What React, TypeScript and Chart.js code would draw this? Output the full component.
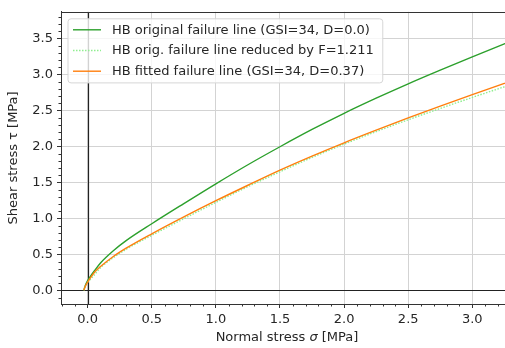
import React, { useEffect, useRef } from "react";
import { Chart, registerables } from "chart.js";

Chart.register(...registerables);

const sigma = [-0.03, -0.02, 0, 0.02, 0.05, 0.1, 0.2, 0.3, 0.5, 0.75, 1.0, 1.25, 1.5, 1.75, 2.0, 2.25, 2.5, 2.75, 3.0, 3.25, 3.5];
const tauOriginal = [0, 0.06, 0.135, 0.19, 0.265, 0.38, 0.55, 0.69, 0.925, 1.205, 1.48, 1.745, 1.995, 2.235, 2.46, 2.67, 2.87, 3.06, 3.245, 3.425, 3.6];
const tauReduced = [0, 0.05, 0.11, 0.15, 0.21, 0.314, 0.454, 0.57, 0.764, 0.995, 1.222, 1.441, 1.647, 1.846, 2.031, 2.205, 2.37, 2.527, 2.68, 2.828, 2.973];
const tauFitted = [0, 0.05, 0.115, 0.17, 0.245, 0.33, 0.47, 0.585, 0.785, 1.02, 1.245, 1.46, 1.67, 1.865, 2.05, 2.225, 2.395, 2.56, 2.72, 2.875, 3.03];

const seriesLabels = [
  "HB original failure line (GSI=34, D=0.0)",
  "HB orig. failure line reduced by F=1.211",
  "HB fitted failure line (GSI=34, D=0.37)",
];
const seriesColors = ["#2ca02c", "#90ee90", "#ff7f0e"];
const seriesDash: number[][] = [[], [1.5, 1.5], []];

const FONT = "DejaVu Sans";
const FS = 13;
const TEXT = "#262626";

const decor = {
  id: "decor",
  beforeDatasetsDraw(chart: any) {
    const { ctx, chartArea: ca, scales } = chart;
    const x0 = scales.x.getPixelForValue(0);
    const y0 = scales.y.getPixelForValue(0);
    ctx.save();
    ctx.beginPath();
    ctx.rect(ca.left, ca.top, ca.right - ca.left, ca.bottom - ca.top);
    ctx.clip();
    ctx.strokeStyle = "#222";
    ctx.lineWidth = 1.2;
    ctx.beginPath();
    ctx.moveTo(Math.round(x0) + 0.5, ca.top);
    ctx.lineTo(Math.round(x0) + 0.5, ca.bottom);
    ctx.moveTo(ca.left, Math.round(y0) + 0.5);
    ctx.lineTo(ca.right, Math.round(y0) + 0.5);
    ctx.stroke();
    ctx.restore();
  },
  afterDraw(chart: any) {
    const { ctx, chartArea: ca, scales } = chart;
    ctx.save();
    ctx.strokeStyle = "#333";
    ctx.lineWidth = 1;
    ctx.beginPath();
    ctx.moveTo(ca.left, Math.round(ca.top) + 0.5);
    ctx.lineTo(ca.right, Math.round(ca.top) + 0.5);
    ctx.stroke();
    ctx.beginPath();
    for (let i = -2; i <= 33; i++) {
      if (i % 5 === 0) continue;
      const p = scales.x.getPixelForValue(i / 10);
      if (p < ca.left || p > ca.right) continue;
      ctx.moveTo(Math.round(p) + 0.5, ca.bottom);
      ctx.lineTo(Math.round(p) + 0.5, ca.bottom + 2.5);
    }
    for (let i = -1; i <= 38; i++) {
      if (i % 5 === 0) continue;
      const p = scales.y.getPixelForValue(i / 10);
      if (p < ca.top || p > ca.bottom) continue;
      ctx.moveTo(ca.left, Math.round(p) + 0.5);
      ctx.lineTo(ca.left - 2.5, Math.round(p) + 0.5);
    }
    ctx.stroke();

    const parts = [
      { t: "Normal stress ", f: `${FS}px "${FONT}"` },
      { t: "σ", f: `italic ${FS}px "${FONT}"` },
      { t: " [MPa]", f: `${FS}px "${FONT}"` },
    ];
    let total = 0;
    for (const p of parts) {
      ctx.font = p.f;
      total += ctx.measureText(p.t).width;
    }
    const cx = ca.left + 226;
    let xx = cx - total / 2;
    ctx.fillStyle = TEXT;
    ctx.textBaseline = "middle";
    ctx.textAlign = "left";
    for (const p of parts) {
      ctx.font = p.f;
      ctx.fillText(p.t, xx, 338);
      xx += ctx.measureText(p.t).width;
    }

    ctx.font = `${FS}px "${FONT}"`;
    let maxW = 0;
    for (const l of seriesLabels) maxW = Math.max(maxW, ctx.measureText(l).width);
    const bx = ca.left + 7;
    const by = ca.top + 7;
    const rowH = 20.7;
    const bw = 44 + maxW + 9;
    const bh = rowH * 3 + 2;
    const r = 3;
    ctx.beginPath();
    ctx.moveTo(bx + r, by);
    ctx.arcTo(bx + bw, by, bx + bw, by + bh, r);
    ctx.arcTo(bx + bw, by + bh, bx, by + bh, r);
    ctx.arcTo(bx, by + bh, bx, by, r);
    ctx.arcTo(bx, by, bx + bw, by, r);
    ctx.closePath();
    ctx.fillStyle = "rgba(255,255,255,0.8)";
    ctx.fill();
    ctx.strokeStyle = "#d6d6d6";
    ctx.lineWidth = 1;
    ctx.stroke();
    for (let i = 0; i < 3; i++) {
      const yy = by + 11 + i * rowH;
      ctx.strokeStyle = seriesColors[i];
      ctx.lineWidth = 1.4;
      ctx.setLineDash(seriesDash[i]);
      ctx.beginPath();
      ctx.moveTo(bx + 5, yy);
      ctx.lineTo(bx + 33, yy);
      ctx.stroke();
      ctx.setLineDash([]);
      ctx.fillStyle = TEXT;
      ctx.textBaseline = "middle";
      ctx.fillText(seriesLabels[i], bx + 44, yy + 0.5);
    }
    ctx.restore();
  },
};

export default function App() {
  const ref = useRef<HTMLCanvasElement | null>(null);
  useEffect(() => {
    document.body.style.margin = "0";
    const mk = (ys: number[]) => sigma.map((x, i) => ({ x, y: ys[i] }));
    const order = [3, 2, 1];
    const datasets = [tauOriginal, tauReduced, tauFitted].map((ys, i) => ({
      label: seriesLabels[i],
      data: mk(ys),
      borderColor: seriesColors[i],
      backgroundColor: seriesColors[i],
      borderWidth: 1.4,
      borderDash: seriesDash[i],
      pointRadius: 0,
      cubicInterpolationMode: "monotone" as const,
      order: order[i],
      fill: false,
    }));
    const tickFont = { family: FONT, size: FS };
    const chart = new Chart(ref.current as HTMLCanvasElement, {
      type: "line",
      data: { datasets },
      plugins: [decor],
      options: {
        animation: false,
        responsive: false,
        devicePixelRatio: 1,
        layout: { padding: { top: 10, right: 0, left: 0, bottom: 0 } },
        plugins: { legend: { display: false }, tooltip: { enabled: false } },
        scales: {
          x: {
            type: "linear",
            min: -0.208,
            max: 3.255,
            afterFit: (s: any) => { s.height = 44; },
            ticks: {
              stepSize: 0.5,
              includeBounds: false,
              maxRotation: 0,
              autoSkip: false,
              padding: 4,
              color: TEXT,
              font: tickFont,
              callback: (v: any) => Number(v).toFixed(1),
            },
            grid: { color: "#d3d3d3", lineWidth: 1, tickLength: 4, tickColor: "#333", drawTicks: true },
            border: { display: true, color: "#333", width: 1 },
          },
          y: {
            type: "linear",
            min: -0.19,
            max: 3.87,
            afterFit: (s: any) => { s.width = 61; },
            ticks: {
              stepSize: 0.5,
              includeBounds: false,
              padding: 4,
              color: TEXT,
              font: tickFont,
              callback: (v: any) => Number(v).toFixed(1),
            },
            title: { display: true, text: "Shear stress τ [MPa]", color: TEXT, font: tickFont, padding: { top: 6, bottom: 0 } },
            grid: { color: "#d3d3d3", lineWidth: 1, tickLength: 4, tickColor: "#333", drawTicks: true },
            border: { display: true, color: "#333", width: 1 },
          },
        },
      },
    });
    return () => chart.destroy();
  }, []);
  return (
    <div style={{ width: 505, height: 348 }}>
      <canvas ref={ref} width={505} height={348} />
    </div>
  );
}
